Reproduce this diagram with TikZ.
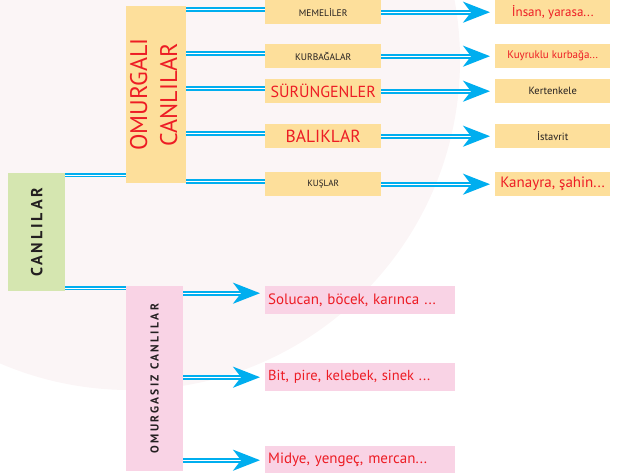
\documentclass[tikz,border=0pt]{standalone}
\usepackage{fontspec}
\setmainfont{PT Sans}
\usetikzlibrary{arrows.meta}

\definecolor{leafgreen}{HTML}{D5E6B0}
\definecolor{sandyellow}{HTML}{FDDF9B}
\definecolor{softpink}{HTML}{F9D3E5}
\definecolor{linkblue}{HTML}{00AEEF}
\definecolor{labelred}{HTML}{ED1C24}
\definecolor{inkblack}{HTML}{231F20}
\definecolor{haze}{HTML}{FBF5F6}

\tikzset{
  box/.style={inner sep=0pt, anchor=north west, align=center},
  midbox/.style={box, fill=sandyellow, minimum width=116pt, minimum height=24pt},
  endbox/.style={box, fill=sandyellow, minimum width=115pt, minimum height=24pt},
  lowbox/.style={box, fill=softpink, minimum width=190pt, minimum height=28pt,
    text width=184pt, align=left},
  link/.style={draw=linkblue, line width=2pt, double=white, double distance=0.8pt},
  arr/.style={link, -{Stealth[length=27pt, width=21pt, inset=8pt]}, shorten >=5pt},
  smalltext/.style={font=\fontsize{9.5}{10}\selectfont, text=inkblack},
  redtext/.style={text=labelred}
}

\begin{document}
\begin{tikzpicture}[x=1pt, y=-1pt]
        \useasboundingbox (0,0) rectangle (623,473);
        \fill[haze] (130,60) circle (330pt);
        % main groups
        \node[box, fill=leafgreen, minimum width=57pt, minimum height=118pt] (canlilar) at (8,173)
            {\rotatebox{90}{\fontsize{16}{17}\selectfont\bfseries\addfontfeatures{LetterSpace=18}\color{inkblack}CANLILAR}};
        \node[box, fill=sandyellow, minimum width=57pt, minimum height=177pt] (omurgali) at (126,6)
            {\rotatebox{90}{\fontsize{24}{30}\selectfont\color{labelred}\begin{tabular}{@{}c@{}}OMURGALI\\CANLILAR\end{tabular}}};
        \node[box, fill=softpink, minimum width=57pt, minimum height=185pt] (omurgasiz) at (126,286)
            {\rotatebox{90}{\fontsize{11.5}{12}\selectfont\bfseries\addfontfeatures{LetterSpace=20}\color{inkblack}OMURGASIZ CANLILAR}};
        % vertebrate classes
        \node[midbox, smalltext] (memeli) at (265,0) {MEMELİLER};
        \node[midbox, smalltext] (kurbaga) at (265,44) {KURBAĞALAR};
        \node[midbox, redtext, font=\fontsize{16}{17}\selectfont] (surungen) at (265,79) {SÜRÜNGENLER};
        \node[midbox, redtext, font=\fontsize{17.5}{18}\selectfont] (balik) at (265,124) {BALIKLAR};
        \node[midbox, smalltext, font=\fontsize{9}{10}\selectfont] (kus) at (265,172) {KUŞLAR};
        % examples
        \node[endbox, redtext, font=\fontsize{13}{14}\selectfont] (insan) at (495,0) {İnsan, yarasa...};
        \node[endbox, redtext, font=\fontsize{11}{12}\selectfont] (kuyruklu) at (495,44) {Kuyruklu kurbağa...};
        \node[endbox, smalltext, font=\fontsize{10.5}{11}\selectfont] (kertenkele) at (495,79) {Kertenkele};
        \node[endbox, smalltext, font=\fontsize{10.5}{11}\selectfont] (istavrit) at (495,124) {İstavrit};
        \node[endbox, redtext, font=\fontsize{15}{16}\selectfont] (kanayra) at (495,172) {Kanayra, şahin...};
        % invertebrates
        \node[lowbox, redtext, font=\fontsize{15}{16}\selectfont] (solucan) at (265,286) {Solucan, böcek, karınca ...};
        \node[lowbox, redtext, font=\fontsize{14.5}{16}\selectfont] (bit) at (265,363) {Bit, pire, kelebek, sinek ...};
        \node[lowbox, redtext, font=\fontsize{15}{16}\selectfont] (midye) at (265,446) {Midye, yengeç, mercan...};
        % connectors
        \draw[link] (canlilar.east |- 0,175) -- (omurgali.west |- 0,175);
        \draw[link] (canlilar.east |- 0,288) -- (omurgasiz.west |- 0,288);
        \foreach \cls in {memeli, kurbaga, surungen, balik, kus}
            \draw[link] ([yshift=3pt]omurgali.east |- \cls.west) -- ([yshift=3pt]\cls.west);
        \draw[arr] (memeli.east) -- (insan.west);
        \draw[arr] (kurbaga.east) -- (kuyruklu.west);
        \draw[arr] (surungen.east) -- (kertenkele.west);
        \draw[arr] (balik.east) -- (istavrit.west);
        \draw[arr] (kus.east) -- (kanayra.west);
        \draw[arr] ([yshift=7pt]omurgasiz.east |- solucan.west) -- ([yshift=7pt]solucan.west);
        \draw[arr] (omurgasiz.east |- bit.west) -- (bit.west);
        \draw[arr] (omurgasiz.east |- midye.west) -- (midye.west);
    \end{tikzpicture}
\end{document}
